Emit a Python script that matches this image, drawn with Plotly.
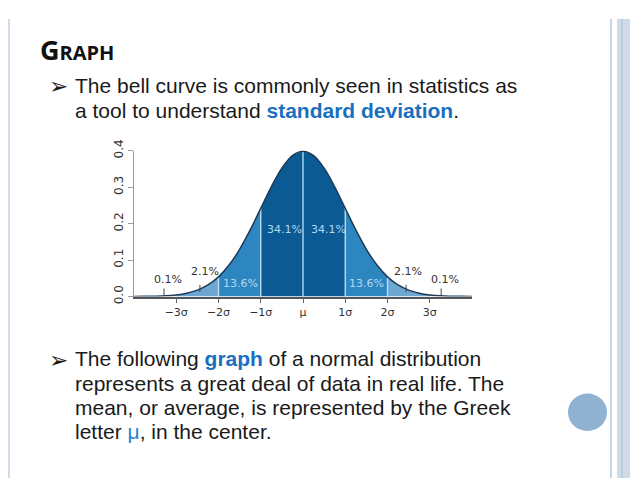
import plotly.graph_objects as go

W, H = 638, 478
OFF = 8  # page body margin in the browser shot

# bell curve (x in sigma, density)
curve_x = [-4.0, -3.75, -3.5, -3.25, -3.0, -2.75, -2.5, -2.25, -2.0, -1.75, -1.5, -1.25, -1.0,
           -0.75, -0.5, -0.25, 0.0, 0.25, 0.5, 0.75, 1.0, 1.25, 1.5, 1.75, 2.0, 2.25, 2.5,
           2.75, 3.0, 3.25, 3.5, 3.75, 4.0]
curve_y = [0.0001, 0.0004, 0.0009, 0.002, 0.0044, 0.0091, 0.0175, 0.0317, 0.054, 0.0863,
           0.1295, 0.1826, 0.242, 0.3011, 0.3521, 0.3867, 0.3989, 0.3867, 0.3521, 0.3011,
           0.242, 0.1826, 0.1295, 0.0863, 0.054, 0.0317, 0.0175, 0.0091, 0.0044, 0.002,
           0.0009, 0.0004, 0.0001]

band_edges = [-4, -3, -2, -1, 0, 1, 2, 3, 4]
band_colors = ['#d6e4ef', '#6da6d1', '#2e86c1', '#0b5a94', '#0b5a94', '#2e86c1', '#6da6d1', '#d6e4ef']
band_labels = ['0.1%', '2.1%', '13.6%', '34.1%', '34.1%', '13.6%', '2.1%', '0.1%']

tick_vals = [-3, -2, -1, 0, 1, 2, 3]
tick_text = ['\u22123\u03c3', '\u22122\u03c3', '\u22121\u03c3', '\u03bc', '1\u03c3', '2\u03c3', '3\u03c3']
y_ticks = [0.0, 0.1, 0.2, 0.3, 0.4]


def px(x):
    # screen pixel -> paper fraction
    return (x - OFF) / W


def py(y):
    return 1 - (y - OFF) / H


fig = go.Figure()

# filled bands
for i in range(len(band_edges) - 1):
    lo, hi = band_edges[i], band_edges[i + 1]
    xs = [x for x in curve_x if lo <= x <= hi]
    ys = [curve_y[curve_x.index(x)] for x in xs]
    fig.add_trace(go.Scatter(x=xs, y=ys, mode='lines', fill='tozeroy',
                             fillcolor=band_colors[i], line=dict(width=0, shape='spline'),
                             hoverinfo='skip', showlegend=False))

# light separators at each sigma
for b in band_edges[1:-1]:
    fig.add_trace(go.Scatter(x=[b, b], y=[0, curve_y[curve_x.index(b)]], mode='lines',
                             line=dict(color='#c4e0f6', width=1.3),
                             hoverinfo='skip', showlegend=False))

# outline
fig.add_trace(go.Scatter(x=curve_x, y=curve_y, mode='lines',
                         line=dict(color='#1d3b57', width=1.5, shape='spline'),
                         hoverinfo='skip', showlegend=False))

# small pointers for the tail labels
for xp, y0, y1 in [(-3.29, 0.002, 0.022), (-2.44, 0.012, 0.032), (2.44, 0.012, 0.032), (3.27, 0.002, 0.022)]:
    fig.add_trace(go.Scatter(x=[xp, xp], y=[y0, y1], mode='lines',
                             line=dict(color='#444444', width=1),
                             hoverinfo='skip', showlegend=False))

label_pos = [(-3.2, 0.046), (-2.32, 0.068), (-1.47, 0.037), (-0.44, 0.184),
             (0.6, 0.184), (1.5, 0.037), (2.48, 0.068), (3.36, 0.046)]
label_color = ['#333333', '#333333', '#b3d8f2', '#b3d8f2', '#b3d8f2', '#b3d8f2', '#333333', '#333333']
annotations = []
for (lx, ly), txt, col in zip(label_pos, band_labels, label_color):
    annotations.append(dict(x=lx, y=ly, xref='x', yref='y', text=txt, showarrow=False,
                            font=dict(family='DejaVu Sans', size=11, color=col)))

# slide text
annotations.append(dict(x=px(38), y=py(40), xref='paper', yref='paper', xanchor='left', yanchor='middle',
                        text="<b>G<span style='font-size:20px'>RAPH</span></b>", showarrow=False,
                        font=dict(family='Open Sans', size=27, color='#111111')))

body = dict(family='Liberation Sans', size=21, color='#1a1a1a')
lines = [
    (77, "The bell curve is commonly seen in statistics as", True),
    (103, "a tool to understand <b><span style='color:#1a6fbf'>standard deviation</span></b>.", False),
    (362, "The following <b><span style='color:#1a6fbf'>graph</span></b> of a normal distribution", True),
    (388, "represents a great deal of data in real life. The", False),
    (413, "mean, or average, is represented by the Greek", False),
    (438, "letter <span style='color:#2a82d4'>\u03bc</span>, in the center.", False),
]
for ly, txt, bullet in lines:
    annotations.append(dict(x=px(73), y=py(ly), xref='paper', yref='paper', xanchor='left',
                            yanchor='middle', text=txt, showarrow=False, font=body))
    if bullet:
        annotations.append(dict(x=px(47), y=py(ly + 1), xref='paper', yref='paper', xanchor='left',
                                yanchor='middle', text='\u27a2', showarrow=False,
                                font=dict(family='DejaVu Sans', size=23, color='#1a1a1a')))

shapes = [
    dict(type='line', xref='paper', yref='paper', x0=px(9), x1=px(9), y0=0, y1=1,
         line=dict(color='#d0dde8', width=2)),
    dict(type='line', xref='paper', yref='paper', x0=px(611), x1=px(611), y0=0, y1=1,
         line=dict(color='#c6d6e4', width=2)),
    dict(type='rect', xref='paper', yref='paper', x0=px(617), x1=1, y0=0, y1=1,
         fillcolor='#cfdce8', line_width=0),
    dict(type='line', xref='paper', yref='paper', x0=px(622), x1=px(622), y0=0, y1=1,
         line=dict(color='#b9cde0', width=2)),
    dict(type='circle', xref='paper', yref='paper', x0=px(568), x1=px(607), y0=py(437), y1=py(398),
         fillcolor='#8fb1d2', line_width=0),
]

fig.update_layout(
    width=W, height=H,
    margin=dict(l=0, r=0, t=0, b=0),
    paper_bgcolor='white', plot_bgcolor='white',
    annotations=annotations, shapes=shapes,
    xaxis=dict(domain=[px(134), px(472)], range=[-4, 4], showgrid=False, zeroline=False,
               showline=True, linecolor='#555555', linewidth=1.5,
               tickvals=tick_vals, ticktext=tick_text, ticks='outside', ticklen=5,
               tickcolor='#666666', tickfont=dict(family='DejaVu Sans', size=11, color='#333333')),
    yaxis=dict(domain=[py(297), py(145)], range=[0, 0.4005], showgrid=False, zeroline=False,
               showline=True, linecolor='#999999', linewidth=1,
               tickvals=y_ticks, tickformat='.1f', ticks='outside', ticklen=5, tickangle=-90,
               tickcolor='#999999', tickfont=dict(family='DejaVu Sans', size=12, color='#333333')),
)

fig.write_html("out.html")
